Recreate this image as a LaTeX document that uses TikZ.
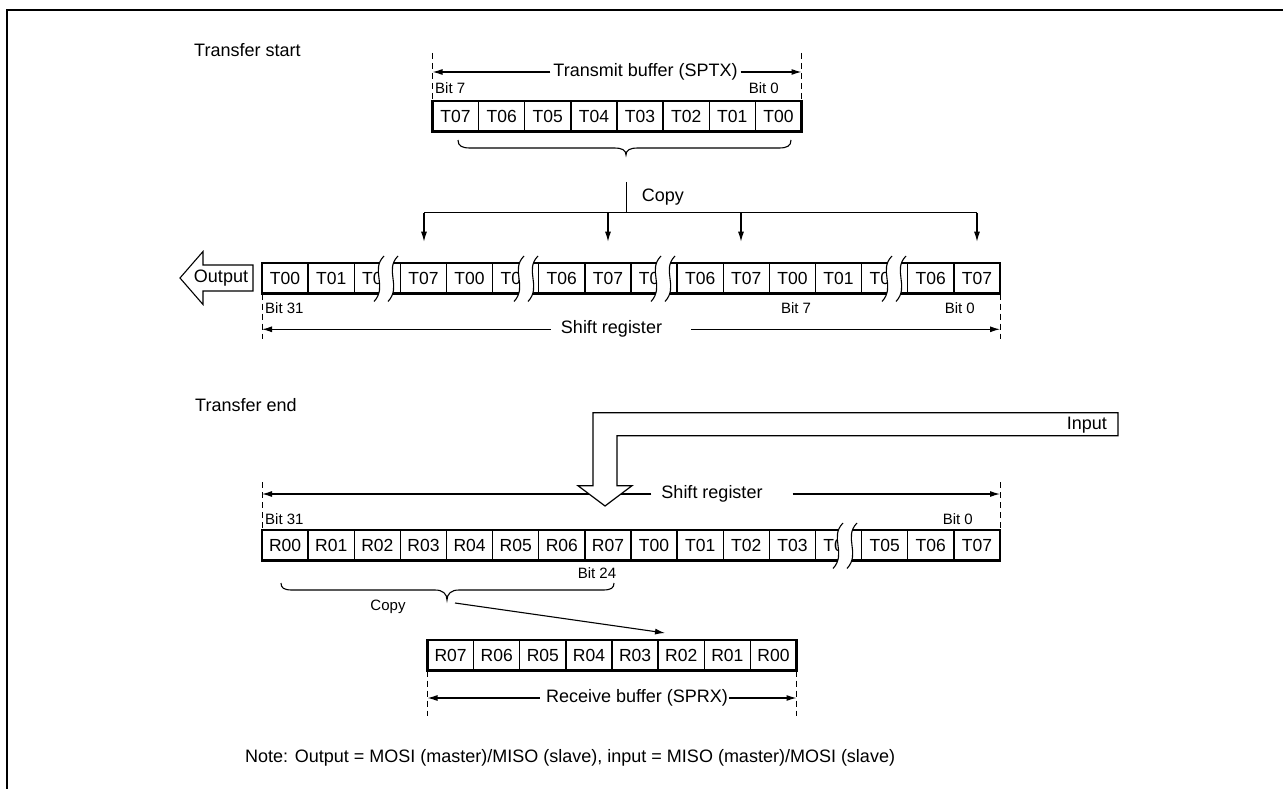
\documentclass[tikz,border=0pt]{standalone}
\usepackage{fontspec}
\setmainfont{Liberation Sans}
\usetikzlibrary{arrows.meta}
\newcommand\regbreak[3]{%
  \fill[white] ({#1+5},{#2-7}) .. controls ({#1-9},{#2+7}) and ({#1+9},{#3-7}) .. ({#1-5},{#3+8})
     -- ({#1+9},{#3+8}) .. controls ({#1+23},{#3-7}) and ({#1+5},{#2+7}) .. ({#1+19},{#2-7}) -- cycle;
  \draw[wave] ({#1+5},{#2-7}) .. controls ({#1-9},{#2+7}) and ({#1+9},{#3-7}) .. ({#1-5},{#3+8});
  \draw[wave] ({#1+19},{#2-7}) .. controls ({#1+5},{#2+7}) and ({#1+23},{#3-7}) .. ({#1+9},{#3+8});
}
\begin{document}
\begin{tikzpicture}[x=1pt,y=-1pt,
  txt/.style={inner sep=0pt, font=\fontsize{18}{21}\selectfont},
  sml/.style={inner sep=0pt, font=\fontsize{15}{18}\selectfont},
  cell/.style={draw, line width=1.3pt, minimum width=46.125pt, minimum height=30.5pt, inner sep=0pt, outer sep=0pt, anchor=north west, font=\fontsize{17.5}{20}\selectfont},
  regframe/.style={line width=2.2pt},
  conn/.style={line width=1.1pt},
  wave/.style={line width=1.1pt},
  arr/.style={conn, -{Latex[length=10pt,width=6pt]}},
  guide/.style={line width=0.9pt, dash pattern=on 6pt off 4pt},
]
\useasboundingbox (0,0) rectangle (1283,789);
\draw[line width=2pt] (7,789) -- (7,10) -- (1283,10);

% ---------- Transfer start ----------
\node[txt, anchor=west] (ts) at (194,50) {Transfer start};

\foreach \t [count=\i from 0] in {T07,T06,T05,T04,T03,T02,T01,T00}
  \node[cell] (t\i) at ({432.5+46.125*\i},101) {\t};
\draw[regframe] (t0.north west) rectangle (t7.south east);
\coordinate (tg0) at (432.5,53);
\coordinate (tg7) at (801.5,53);
\draw[guide] (tg0) -- (t0.north west);
\draw[guide] (tg7) -- (t7.north east);
\node[txt] (tbuf) at (645.5,72) {Transmit buffer (SPTX)};
\draw[arr] ([xshift=-3pt]tbuf.west) -- (tg0 |- tbuf);
\draw[arr] ([xshift=3pt]tbuf.east) -- (tg7 |- tbuf);
\node[sml, anchor=west] (tb7) at (435,88) {Bit 7};
\node[sml, anchor=east] (tb0) at (779,88) {Bit 0};

% brace
\draw[conn] (458,140) .. controls (458,146) and (462,148) .. (470,148) -- (614,148)
  .. controls (622,148) and (626,150) .. (626,155) .. controls (626,150) and (630,148) .. (638,148)
  -- (779,148) .. controls (787,148) and (791,146) .. (791,140);

% copy
\coordinate (cv0) at (626.5,182);
\coordinate (cv1) at (626.5,212.7);
\draw[conn] (cv0) -- (cv1);
\node[txt, anchor=west] (copy1) at (641.7,197) {Copy};
\coordinate (h1) at (424,212.7);
\coordinate (h2) at (608,212.7);
\coordinate (h3) at (741,212.7);
\coordinate (h4) at (977,212.7);
\draw[conn] (h1) -- (h4);
\coordinate (d1) at (424,241.7);
\coordinate (d2) at (608,241.7);
\coordinate (d3) at (741,241.7);
\coordinate (d4) at (977,241.7);
\foreach \k in {1,2,3,4} \draw[arr] (h\k) -- (d\k);

% shift register (start)
\foreach \t [count=\i from 0] in {T00,T01,T02,T07,T00,T01,T06,T07,T00,T06,T07,T00,T01,T02,T06,T07}
  \node[cell] (a\i) at ({262+46.125*\i},263) {\t};
\draw[regframe] (a0.north west) rectangle (a15.south east);
\regbreak{379}{263}{293.5}
\regbreak{519}{263}{293.5}
\regbreak{656}{263}{293.5}
\regbreak{887}{263}{293.5}

% output arrow
\draw[line width=1.1pt] (180,278) -- (203,251.5) -- (203,265) -- (253,265) -- (253,291) -- (203,291) -- (203,304.5) -- cycle;
\node[txt] (out) at (221,278) {Output};

\node[sml, anchor=west] (sb31) at (265,308) {Bit 31};
\node[sml] (sb7) at (796,308) {Bit 7};
\node[sml, anchor=east] (sb0) at (975,308) {Bit 0};
\coordinate (sg0) at (262,339);
\coordinate (sg15) at (1000,339);
\draw[guide] (a0.south west) -- (sg0);
\draw[guide] (a15.south east) -- (sg15);
\node[txt] (sreg1) at (611.5,329.3) {Shift register};
\draw[arr] ([xshift=-10pt]sreg1.west) -- (sg0 |- sreg1);
\draw[arr] ([xshift=29pt]sreg1.east) -- (sg15 |- sreg1);

% ---------- Transfer end ----------
\node[txt, anchor=west] (te) at (195,405) {Transfer end};

\foreach \t [count=\i from 0] in {R00,R01,R02,R03,R04,R05,R06,R07,T00,T01,T02,T03,T04,T05,T06,T07}
  \node[cell] (b\i) at ({262+46.125*\i},530) {\t};
\draw[regframe] (b0.north west) rectangle (b15.south east);
\regbreak{838}{530}{560.5}

\coordinate (lg0) at (262,482);
\coordinate (lg15) at (1000,482);
\draw[guide] (lg0) -- (b0.north west);
\draw[guide] (lg15) -- (b15.north east);
\node[txt] (sreg2) at (712,494) {Shift register};
\draw[arr] ([xshift=-10pt]sreg2.west) -- (lg0 |- sreg2);
\draw[arr] ([xshift=30pt]sreg2.east) -- (lg15 |- sreg2);

% input arrow
\draw[line width=1.2pt, fill=white] (593,485.7) -- (593,412.7) -- (1118,412.7) -- (1118,435.7)
  -- (617,435.7) -- (617,485.7) -- (632,485.7) -- (605,506) -- (578,485.7) -- cycle;
\node[txt, anchor=east] (inp) at (1107,425) {Input};

\node[sml, anchor=west] (lb31) at (265,519) {Bit 31};
\node[sml, anchor=east] (lb0) at (973,519) {Bit 0};
\node[sml] (lb24) at (597,573) {Bit 24};

% lower brace
\draw[conn] (281,583) .. controls (281,588) and (284,590) .. (292,590) -- (435,590)
  .. controls (443,590) and (447,594) .. (447,600) .. controls (447,594) and (451,590) .. (459,590)
  -- (603,590) .. controls (611,590) and (614,588) .. (614,583);
\node[sml] (copy2) at (388,607) {Copy};
\coordinate (lc0) at (455,603);
\coordinate (lc1) at (665,633);
\draw[arr] (lc0) -- (lc1);

% receive buffer
\foreach \t [count=\i from 0] in {R07,R06,R05,R04,R03,R02,R01,R00}
  \node[cell] (r\i) at ({427.5+46.125*\i},640) {\t};
\draw[regframe] (r0.north west) rectangle (r7.south east);
\coordinate (rg0) at (427.5,716);
\coordinate (rg7) at (796.5,716);
\draw[guide] (r0.south west) -- (rg0);
\draw[guide] (r7.south east) -- (rg7);
\node[txt] (rbuf) at (637,698) {Receive buffer (SPRX)};
\draw[arr] ([xshift=-6pt]rbuf.west) -- (rg0 |- rbuf);
\draw[arr] ([xshift=1pt]rbuf.east) -- (rg7 |- rbuf);

\node[txt, anchor=west] (note) at (245,758) {Note: Output = MOSI (master)/MISO (slave), input = MISO (master)/MOSI (slave)};
\end{tikzpicture}
\end{document}
